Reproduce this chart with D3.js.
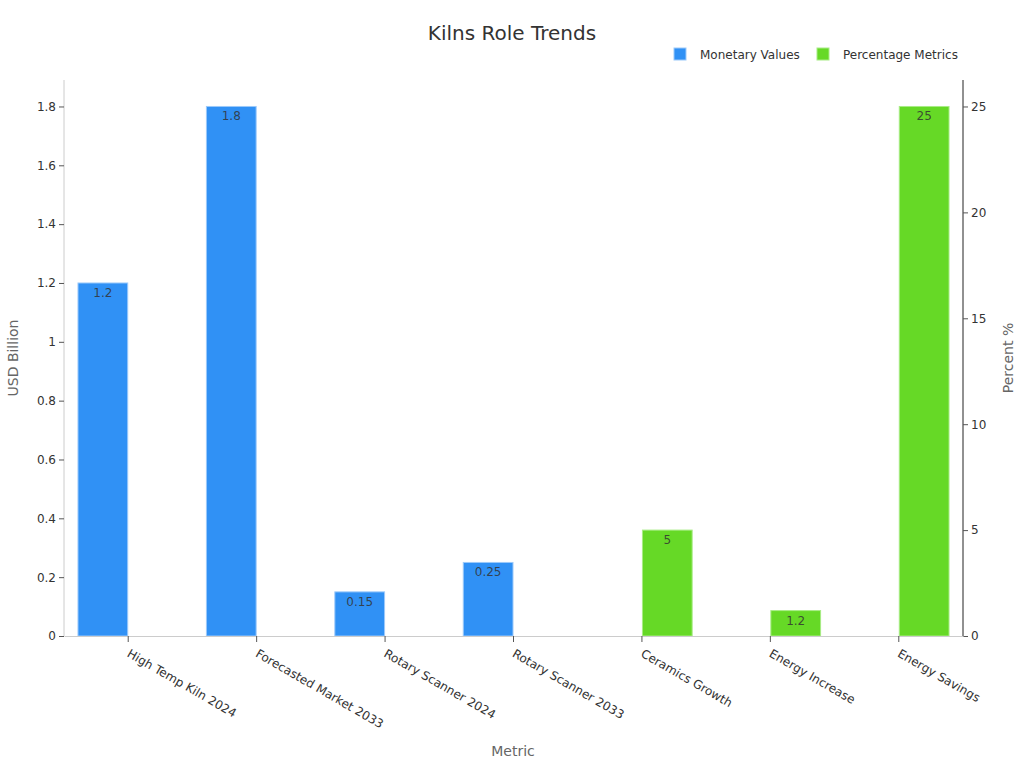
<!DOCTYPE html>
<html>
<head>
<meta charset="utf-8">
<script src="https://cdn.jsdelivr.net/npm/d3@7"></script>
<style>
  body { margin: 0; background: #fff; }
  svg { font-family: "DejaVu Sans", sans-serif; }
</style>
</head>
<body>
<svg id="chart" width="1024" height="768"></svg>
<script>
const categories = ["High Temp Kiln 2024", "Forecasted Market 2033", "Rotary Scanner 2024", "Rotary Scanner 2033", "Ceramics Growth", "Energy Increase", "Energy Savings"];
const monetaryValues = [1.2, 1.8, 0.15, 0.25, null, null, null];
const percentageValues = [null, null, null, null, 5, 1.2, 25];
const seriesNames = ["Monetary Values", "Percentage Metrics"];
const leftTicks = [0, 0.2, 0.4, 0.6, 0.8, 1, 1.2, 1.4, 1.6, 1.8];
const rightTicks = [0, 5, 10, 15, 20, 25];

const colors = ["#3091f5", "#66d926"];
const strokes = ["#9cc9fa", "#a8ec85"];

const svg = d3.select("#chart");
const m = { left: 64, right: 963, top: 80, bottom: 636 };

const x0 = d3.scaleBand().domain(categories).range([m.left, m.right]).paddingInner(0.21).paddingOuter(0.105);
const x1 = d3.scaleBand().domain([0, 1]).range([0, x0.bandwidth()]);
const yL = d3.scaleLinear().domain([0, d3.max(monetaryValues) * 1.05]).range([m.bottom, m.top]);
const yR = d3.scaleLinear().domain([0, d3.max(percentageValues) * 1.05]).range([m.bottom, m.top]);

// Title
svg.append("text").attr("x", 512).attr("y", 40).attr("text-anchor", "middle")
  .attr("font-size", 20).attr("fill", "#333").text("Kilns Role Trends");

// Legend
const legend = [{ name: seriesNames[0], x: 674 }, { name: seriesNames[1], x: 817 }];
legend.forEach((l, i) => {
  svg.append("rect").attr("x", l.x).attr("y", 48).attr("width", 12).attr("height", 12)
    .attr("fill", colors[i]).attr("stroke", strokes[i]).attr("stroke-width", 1);
  svg.append("text").attr("x", l.x + 26).attr("y", 59).attr("font-size", 12).attr("fill", "#333").text(l.name);
});

// Bars
const series = [monetaryValues, percentageValues];
const scales = [yL, yR];
series.forEach((vals, si) => {
  const data = categories.map((c, i) => ({ c, v: vals[i] })).filter(d => d.v != null);
  const g = svg.append("g");
  g.selectAll("rect").data(data).join("rect")
    .attr("x", d => x0(d.c) + x1(si) + 0.5)
    .attr("y", d => scales[si](d.v))
    .attr("width", x1.bandwidth() - 1)
    .attr("height", d => m.bottom - scales[si](d.v))
    .attr("fill", colors[si]).attr("stroke", strokes[si]).attr("stroke-width", 1);
  g.selectAll("text").data(data).join("text")
    .attr("x", d => x0(d.c) + x1(si) + x1.bandwidth() / 2)
    .attr("y", d => scales[si](d.v) + 14)
    .attr("text-anchor", "middle").attr("font-size", 12).attr("fill", "#333").attr("fill-opacity", 0.85)
    .text(d => d.v);
});

// Left axis
const gL = svg.append("g").attr("transform", `translate(${m.left},0)`)
  .call(d3.axisLeft(yL).tickValues(leftTicks).tickSize(5).tickPadding(3).tickFormat(d => d3.format("~g")(d)));
gL.select(".domain").attr("stroke", "#ccc").attr("d", `M0,${m.top}V${m.bottom}`);
gL.selectAll(".tick line").attr("stroke", "#555");
gL.selectAll(".tick text").attr("font-size", 12).attr("fill", "#333").attr("font-family", "DejaVu Sans");

// Right axis
const gR = svg.append("g").attr("transform", `translate(${m.right},0)`)
  .call(d3.axisRight(yR).tickValues(rightTicks).tickSize(5).tickPadding(3));
gR.select(".domain").attr("stroke", "#222").attr("d", `M0,${m.top}V${m.bottom}`);
gR.selectAll(".tick line").attr("stroke", "#555");
gR.selectAll(".tick text").attr("font-size", 12).attr("fill", "#333").attr("font-family", "DejaVu Sans");

// Bottom axis
const gB = svg.append("g").attr("transform", `translate(0,${m.bottom})`)
  .call(d3.axisBottom(x0).tickSize(6).tickSizeOuter(0));
gB.select(".domain").attr("stroke", "#ccc");
gB.selectAll(".tick line").attr("stroke", "#555");
gB.selectAll(".tick text").attr("font-size", 12).attr("fill", "#333").attr("font-family", "DejaVu Sans")
  .attr("text-anchor", "start").attr("dy", null).attr("y", 0)
  .attr("transform", "translate(-2,20) rotate(30)");

// Axis titles
svg.append("text").attr("x", 513).attr("y", 756).attr("text-anchor", "middle")
  .attr("font-size", 14).attr("fill", "#666").text("Metric");
svg.append("text").attr("transform", "translate(18,358) rotate(-90)").attr("text-anchor", "middle")
  .attr("font-size", 14).attr("fill", "#666").text("USD Billion");
svg.append("text").attr("transform", "translate(1013,358) rotate(-90)").attr("text-anchor", "middle")
  .attr("font-size", 14).attr("fill", "#666").text("Percent %");
</script>
</body>
</html>
